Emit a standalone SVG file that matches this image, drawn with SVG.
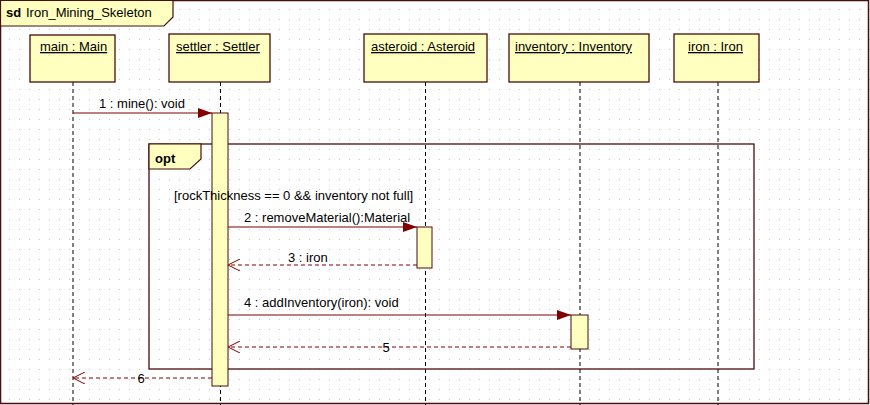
<svg xmlns="http://www.w3.org/2000/svg" width="870" height="405" viewBox="0 0 870 405">
<defs>
<pattern id="grid" x="0" y="0" width="10" height="10" patternUnits="userSpaceOnUse">
<rect x="9" y="9" width="1" height="1" fill="#c4c4c4"/>
</pattern>
<marker id="filled" markerWidth="14" markerHeight="10" refX="14" refY="5" orient="auto" markerUnits="userSpaceOnUse">
<path d="M0,0 L14,5 L0,10 Z" fill="#800000"/>
</marker>
<marker id="open" markerWidth="14" markerHeight="12" refX="13" refY="6" orient="auto" markerUnits="userSpaceOnUse">
<path d="M1,0 L13,6 L1,12" fill="none" stroke="#800000" stroke-width="1"/>
</marker>
</defs>
<style>
text{font-family:"Liberation Sans",Arial,sans-serif;font-size:13px;fill:#000}
.box{fill:#ffffc0;stroke:#4a0d0d;stroke-width:1.3}
.act{fill:#ffffc0;stroke:#4a0d0d;stroke-width:1}
.life{stroke:#000;stroke-width:1;stroke-dasharray:4,3}
.msg{stroke:#800000;stroke-width:1.2;fill:none}
.ret{stroke:#800000;stroke-width:1;stroke-dasharray:4,3;fill:none}
.u{text-decoration:underline}
.b{font-weight:bold}
</style>
<rect x="0" y="0" width="870" height="405" fill="#fff"/>
<rect x="0" y="0" width="870" height="405" fill="url(#grid)"/>
<g id="frame">
<rect x="0.5" y="0.5" width="868" height="403" fill="none" stroke="#4a0d0d" stroke-width="1.5"/>
<polygon points="0.5,0.5 173,0.5 173,17 164,26 0.5,26" fill="#ffffc0" stroke="#4a0d0d" stroke-width="1.2"/>
<text x="6" y="17" class="b" style="font-size:13px">sd</text>
<text x="26" y="17">Iron_Mining_Skeleton</text>
</g>
<g id="lifelines">
<line class="life" x1="73" y1="82" x2="73" y2="405"/>
<line class="life" x1="220.5" y1="82" x2="220.5" y2="405"/>
<line class="life" x1="425.5" y1="82" x2="425.5" y2="405"/>
<line class="life" x1="580" y1="82" x2="580" y2="405"/>
<line class="life" x1="718" y1="82" x2="718" y2="405"/>
</g>
<g id="main">
<rect class="box" x="30" y="35" width="85" height="47"/>
<text x="40" y="51" class="u">main : Main</text>
</g>
<g id="settler">
<rect class="box" x="169" y="34" width="101" height="48"/>
<text x="176" y="51" class="u">settler : Settler</text>
</g>
<g id="asteroid">
<rect class="box" x="364" y="34" width="123" height="48"/>
<text x="371" y="51" class="u">asteroid : Asteroid</text>
</g>
<g id="inventory">
<rect class="box" x="509" y="34" width="140" height="48"/>
<text x="515" y="51" class="u">inventory : Inventory</text>
</g>
<g id="iron">
<rect class="box" x="674" y="34" width="85" height="48"/>
<text x="688" y="51" class="u">iron : Iron</text>
</g>
<g id="opt">
<rect x="149" y="144" width="605" height="225" fill="none" stroke="#4a0d0d" stroke-width="1.3"/>
<polygon points="149,144 201,144 201,159 190,169 149,169" fill="#ffffc0" stroke="#4a0d0d" stroke-width="1.2"/>
<text x="155" y="163" class="b">opt</text>
</g>
<g id="activations">
<rect class="act" x="212" y="113" width="16" height="273"/>
<rect class="act" x="417" y="227" width="15" height="41"/>
<rect class="act" x="571" y="315" width="17" height="34"/>
</g>
<g id="guard">
<text x="174" y="200">[rockThickness == 0 &amp;&amp; inventory not full]</text>
</g>
<g id="connectors">
<line class="msg" x1="73" y1="113" x2="212" y2="113" marker-end="url(#filled)"/>
<text x="99" y="108">1 : mine(): void</text>
<line class="msg" x1="228" y1="227" x2="417" y2="227" marker-end="url(#filled)"/>
<text x="244" y="222">2 : removeMaterial():Material</text>
<line class="ret" x1="417" y1="265" x2="228" y2="265" marker-end="url(#open)"/>
<text x="288" y="262">3 : iron</text>
<line class="msg" x1="228" y1="315" x2="571" y2="315" marker-end="url(#filled)"/>
<text x="244" y="307">4 : addInventory(iron): void</text>
<line class="ret" x1="571" y1="347" x2="228" y2="347" marker-end="url(#open)"/>
<text x="386" y="352" text-anchor="middle">5</text>
<line class="ret" x1="212" y1="378" x2="73" y2="378" marker-end="url(#open)"/>
<text x="141" y="383" text-anchor="middle">6</text>
</g>
</svg>
